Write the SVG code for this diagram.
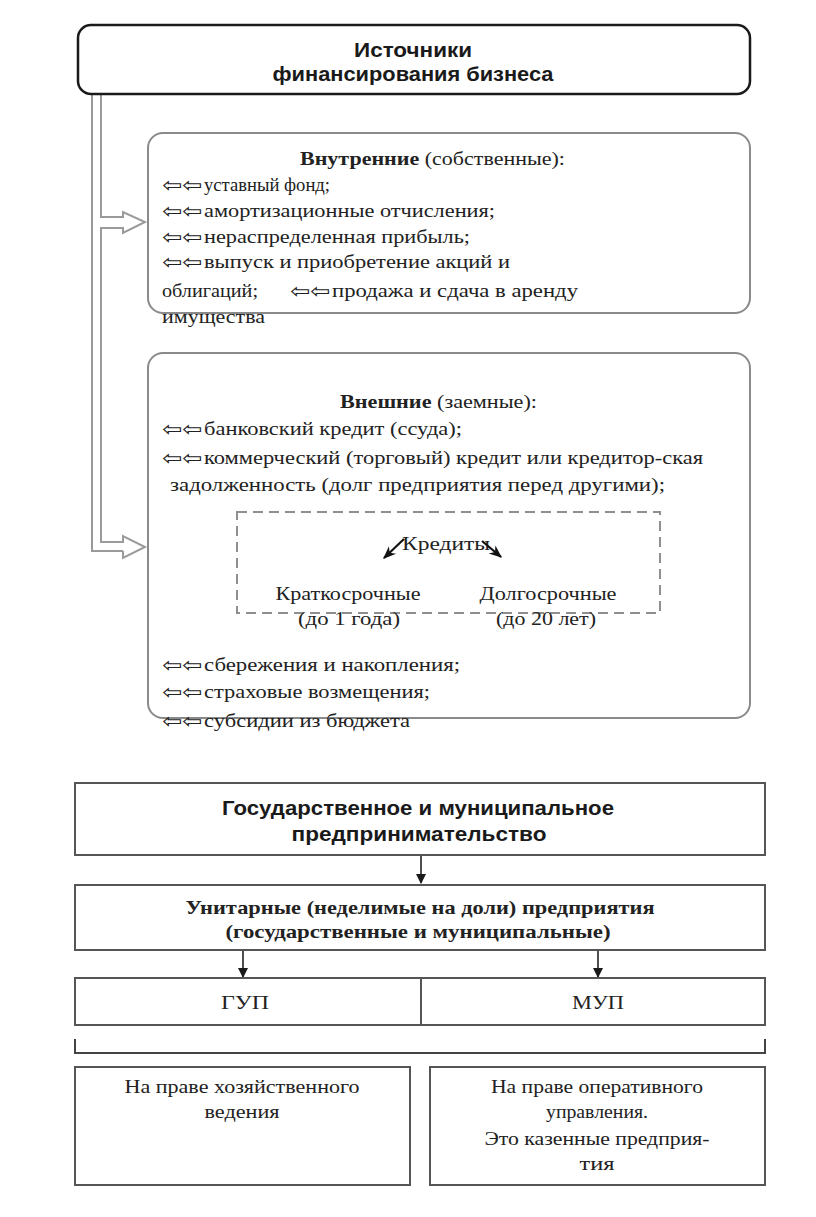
<svg xmlns="http://www.w3.org/2000/svg" width="816" height="1217" viewBox="0 0 816 1217">
<style>
.bg{fill:#fff}
.top{fill:#fff;stroke:#1a1a1a;stroke-width:2.5}
.rbox{fill:#fff;stroke:#8a8a8a;stroke-width:2}
.dash{fill:none;stroke:#8f8f8f;stroke-width:2;stroke-dasharray:10 6}
.box{fill:#fff;stroke:#555;stroke-width:2}
.dl{fill:none;stroke:#9a9a9a;stroke-width:2}
.ln{fill:none;stroke:#222;stroke-width:1.6}
.sans{font-family:"Liberation Sans",Arial,sans-serif;font-weight:bold;font-size:20px;fill:#1a1a1a}
.ser{font-family:"Liberation Serif","Times New Roman",serif;font-size:19px;fill:#222}
.b{font-weight:bold}
.arr{font-family:"DejaVu Sans",sans-serif;font-size:20px;fill:#222}
</style>
<defs>
<marker id="ah" viewBox="0 0 10 10" refX="9" refY="5" markerWidth="10" markerHeight="11" orient="auto" markerUnits="userSpaceOnUse">
<path d="M0,0 L10,5 L0,10 z" fill="#1a1a1a"/>
</marker>
<marker id="ah2" viewBox="0 0 10 10" refX="9" refY="5" markerWidth="13" markerHeight="13" orient="auto" markerUnits="userSpaceOnUse">
<path d="M0,1 L10,5 L0,9 L3,5 z" fill="#111"/>
</marker>
</defs>
<rect class="bg" x="0" y="0" width="816" height="1217"/>

<g id="connectors">
<path class="dl" d="M92,93 L92,551 L123,551"/>
<path class="dl" d="M101,93 L101,217 L123,217 L123,212 L145,222 L123,233 L123,228 L101,228 L101,542 L123,542 L123,536 L145,547 L123,558 L123,551"/>
<line class="ln" x1="421" y1="855" x2="421" y2="883" marker-end="url(#ah)"/>
<line class="ln" x1="243" y1="950" x2="243" y2="977" marker-end="url(#ah)"/>
<line class="ln" x1="598" y1="950" x2="598" y2="977" marker-end="url(#ah)"/>
<path d="M75,1039 L75,1053 L765,1053 L765,1039" fill="none" stroke="#444" stroke-width="2"/>
</g>

<g id="top">
<rect class="top" x="78" y="25" width="672" height="69" rx="13"/>
<text class="sans" x="413" y="57" text-anchor="middle" textLength="118" lengthAdjust="spacingAndGlyphs">Источники</text>
<text class="sans" x="413" y="81" text-anchor="middle" textLength="281" lengthAdjust="spacingAndGlyphs">финансирования бизнеса</text>
</g>

<g id="internal">
<rect class="rbox" x="148" y="133" width="602" height="180" rx="15"/>
<text class="ser" x="300" y="165" textLength="265" lengthAdjust="spacingAndGlyphs"><tspan class="b">Внутренние</tspan> (собственные):</text>
<text class="arr" x="162" y="192" textLength="40" lengthAdjust="spacingAndGlyphs">⇦⇦</text><text class="ser" x="204" y="191" textLength="126" lengthAdjust="spacingAndGlyphs">уставный фонд;</text>
<text class="arr" x="162" y="218" textLength="40" lengthAdjust="spacingAndGlyphs">⇦⇦</text><text class="ser" x="204" y="217" textLength="291" lengthAdjust="spacingAndGlyphs">амортизационные  отчисления;</text>
<text class="arr" x="162" y="244" textLength="40" lengthAdjust="spacingAndGlyphs">⇦⇦</text><text class="ser" x="204" y="243" textLength="266" lengthAdjust="spacingAndGlyphs">нераспределенная  прибыль;</text>
<text class="arr" x="162" y="269" textLength="40" lengthAdjust="spacingAndGlyphs">⇦⇦</text><text class="ser" x="204" y="268" textLength="306" lengthAdjust="spacingAndGlyphs">выпуск и приобретение  акций и</text>
<text class="ser" x="162" y="297" textLength="96" lengthAdjust="spacingAndGlyphs">облигаций;</text>
<text class="arr" x="290" y="298" textLength="40" lengthAdjust="spacingAndGlyphs">⇦⇦</text><text class="ser" x="332" y="297" textLength="246" lengthAdjust="spacingAndGlyphs">продажа  и сдача в аренду</text>
<text class="ser" x="162" y="323" textLength="103" lengthAdjust="spacingAndGlyphs">имущества</text>
</g>

<g id="external">
<rect class="rbox" x="148" y="353" width="602" height="365" rx="15"/>
<text class="ser" x="340" y="408" textLength="197" lengthAdjust="spacingAndGlyphs"><tspan class="b">Внешние</tspan> (заемные):</text>
<text class="arr" x="162" y="436" textLength="40" lengthAdjust="spacingAndGlyphs">⇦⇦</text><text class="ser" x="204" y="435" textLength="258" lengthAdjust="spacingAndGlyphs">банковский кредит (ссуда);</text>
<text class="arr" x="162" y="465" textLength="40" lengthAdjust="spacingAndGlyphs">⇦⇦</text><text class="ser" x="204" y="464" textLength="499" lengthAdjust="spacingAndGlyphs">коммерческий (торговый) кредит или кредитор-ская</text>
<text class="ser" x="170" y="491" textLength="495" lengthAdjust="spacingAndGlyphs">задолженность (долг предприятия перед другими);</text>
<text class="arr" x="162" y="672" textLength="40" lengthAdjust="spacingAndGlyphs">⇦⇦</text><text class="ser" x="204" y="671" textLength="256" lengthAdjust="spacingAndGlyphs">сбережения  и накопления;</text>
<text class="arr" x="162" y="699" textLength="40" lengthAdjust="spacingAndGlyphs">⇦⇦</text><text class="ser" x="204" y="698" textLength="226" lengthAdjust="spacingAndGlyphs">страховые возмещения;</text>
<text class="arr" x="162" y="728" textLength="40" lengthAdjust="spacingAndGlyphs">⇦⇦</text><text class="ser" x="204" y="727" textLength="206" lengthAdjust="spacingAndGlyphs">субсидии из бюджета</text>
</g>

<g id="credits">
<rect class="dash" x="237" y="512" width="423" height="101"/>
<text class="ser" x="402" y="550" textLength="88" lengthAdjust="spacingAndGlyphs">Кредиты</text>
<line x1="404" y1="539" x2="384" y2="558" stroke="#111" stroke-width="2.2" marker-end="url(#ah2)"/>
<line x1="482" y1="541" x2="501" y2="557" stroke="#111" stroke-width="2.2" marker-end="url(#ah2)"/>
<text class="ser" x="348" y="600" text-anchor="middle" textLength="145" lengthAdjust="spacingAndGlyphs">Краткосрочные</text>
<text class="ser" x="349" y="625" text-anchor="middle" textLength="102" lengthAdjust="spacingAndGlyphs">(до 1 года)</text>
<text class="ser" x="548" y="600" text-anchor="middle" textLength="137" lengthAdjust="spacingAndGlyphs">Долгосрочные</text>
<text class="ser" x="546" y="625" text-anchor="middle" textLength="100" lengthAdjust="spacingAndGlyphs">(до 20 лет)</text>
</g>

<g id="gov">
<rect class="box" x="75" y="783" width="690" height="72"/>
<text class="sans" x="418" y="815" text-anchor="middle" textLength="392" lengthAdjust="spacingAndGlyphs">Государственное и муниципальное</text>
<text class="sans" x="419" y="841" text-anchor="middle" textLength="255" lengthAdjust="spacingAndGlyphs">предпринимательство</text>
</g>

<g id="unitary">
<rect class="box" x="75" y="885" width="690" height="65"/>
<text class="ser b" x="420" y="914" text-anchor="middle" textLength="469" lengthAdjust="spacingAndGlyphs">Унитарные (неделимые на доли) предприятия</text>
<text class="ser b" x="418" y="938" text-anchor="middle" textLength="385" lengthAdjust="spacingAndGlyphs">(государственные и муниципальные)</text>
</g>

<g id="gup-mup">
<rect class="box" x="75" y="978" width="690" height="47"/>
<line x1="421" y1="978" x2="421" y2="1025" stroke="#555" stroke-width="2"/>
<text class="ser" x="245" y="1009" text-anchor="middle" textLength="48" lengthAdjust="spacingAndGlyphs">ГУП</text>
<text class="ser" x="598" y="1009" text-anchor="middle" textLength="52" lengthAdjust="spacingAndGlyphs">МУП</text>
</g>

<g id="left-box">
<rect class="box" x="75" y="1067" width="335" height="118"/>
<text class="ser" x="242" y="1093" text-anchor="middle" textLength="235" lengthAdjust="spacingAndGlyphs">На праве хозяйственного</text>
<text class="ser" x="242" y="1118" text-anchor="middle" textLength="75" lengthAdjust="spacingAndGlyphs">ведения</text>
</g>

<g id="right-box">
<rect class="box" x="430" y="1067" width="335" height="118"/>
<text class="ser" x="597" y="1093" text-anchor="middle" textLength="212" lengthAdjust="spacingAndGlyphs">На праве оперативного</text>
<text class="ser" x="597" y="1118" text-anchor="middle" textLength="102" lengthAdjust="spacingAndGlyphs">управления.</text>
<text class="ser" x="597" y="1145" text-anchor="middle" textLength="225" lengthAdjust="spacingAndGlyphs">Это казенные предприя-</text>
<text class="ser" x="597" y="1170" text-anchor="middle" textLength="35" lengthAdjust="spacingAndGlyphs">тия</text>
</g>
</svg>
